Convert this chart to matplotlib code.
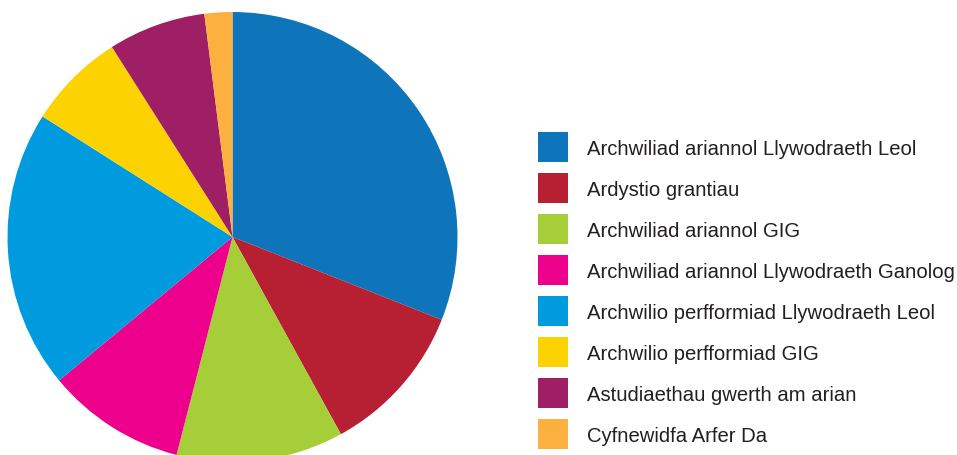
import matplotlib
matplotlib.use("Agg")
import matplotlib.pyplot as plt
from matplotlib.patches import Rectangle

labels = [
    "Archwiliad ariannol Llywodraeth Leol",
    "Ardystio grantiau",
    "Archwiliad ariannol GIG",
    "Archwiliad ariannol Llywodraeth Ganolog",
    "Archwilio perfformiad Llywodraeth Leol",
    "Archwilio perfformiad GIG",
    "Astudiaethau gwerth am arian",
    "Cyfnewidfa Arfer Da",
]
values = [31, 11, 12, 10, 20, 7, 7, 2]
colors = ["#0E75BA", "#B71F33", "#A6CE39", "#EC008C",
          "#009BDE", "#FCD200", "#9E1F63", "#FBB040"]

plt.rcParams['font.family'] = ['Liberation Sans', 'DejaVu Sans']

W, H = 957, 455
fig = plt.figure(figsize=(W / 100, H / 100), dpi=100)

# pie axes in pixel geometry
cx, cy, r = 232.5, 237, 225
ax = fig.add_axes([(cx - r) / W, (H - cy - r) / H, 2 * r / W, 2 * r / H])
wedges, _ = ax.pie(values, colors=colors, startangle=90, counterclock=False,
                   radius=1, wedgeprops=dict(linewidth=0))
ax.set_xlim(-1, 1)
ax.set_ylim(-1, 1)
ax.set_aspect('equal')
ax.axis('off')

# legend
lax = fig.add_axes([0, 0, 1, 1])
lax.set_xlim(0, W)
lax.set_ylim(H, 0)
lax.axis('off')
y0, dy, sq = 147, 41, 30
for i, (lab, col) in enumerate(zip(labels, colors)):
    yc = y0 + i * dy
    lax.add_patch(Rectangle((538, yc - sq / 2), sq, sq, facecolor=col, edgecolor='none'))
    lax.text(587, yc + 8, lab, fontsize=14.6, color='#231F20', va='baseline', ha='left')

fig.savefig("out.png", dpi=100)
